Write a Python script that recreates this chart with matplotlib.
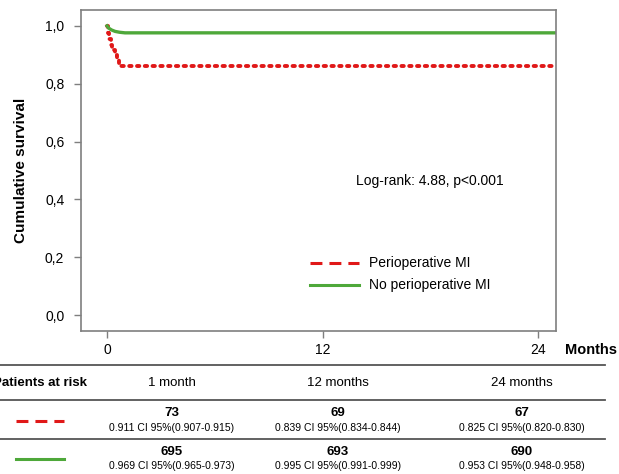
import matplotlib
matplotlib.use('Agg')
import matplotlib.pyplot as plt
from matplotlib.lines import Line2D

plt.rcParams['font.family'] = ['Liberation Sans', 'DejaVu Sans']

# survival curves (months, cumulative survival)
peri_t = [0, 0.05, 0.12, 0.2, 0.3, 0.42, 0.55, 0.68, 25]
peri_s = [1.0, 0.975, 0.955, 0.935, 0.915, 0.90, 0.885, 0.862, 0.862]
no_t = [0, 0.1, 0.25, 0.45, 0.7, 1.0, 25]
no_s = [1.0, 0.992, 0.986, 0.981, 0.978, 0.976, 0.976]

xticks = [0, 12, 24]
yticks = [0.0, 0.2, 0.4, 0.6, 0.8, 1.0]
ytick_labels = ['0,0', '0,2', '0,4', '0,6', '0,8', '1,0']

# patients at risk table
risk_cols = ['1 month', '12 months', '24 months']
peri_n = [73, 69, 67]
peri_ci = ['0.911 CI 95%(0.907-0.915)', '0.839 CI 95%(0.834-0.844)', '0.825 CI 95%(0.820-0.830)']
no_n = [695, 693, 690]
no_ci = ['0.969 CI 95%(0.965-0.973)', '0.995 CI 95%(0.991-0.999)', '0.953 CI 95%(0.948-0.958)']

RED = '#e01818'
GREEN = '#4ea83a'
GRAY = '#7f7f7f'
W, H = 619, 474


def fx(px):
    return px / W


def fy(py):
    return 1 - py / H


fig = plt.figure(figsize=(W / 100, H / 100), dpi=100)
ax = fig.add_axes([fx(81), fy(331), (556 - 81) / W, (331 - 10) / H])

ax.step(peri_t, peri_s, where='post', color=RED, lw=2.8,
        linestyle=(0, (0.6, 1.4)), dash_capstyle='round')
ax.plot(no_t, no_s, color=GREEN, lw=2.4)

ax.set_xlim(-1.45, 25.0)
ax.set_ylim(-0.055, 1.055)
ax.set_xticks(xticks)
ax.set_xticklabels([str(t) for t in xticks], fontsize=10)
ax.set_yticks(yticks)
ax.set_yticklabels(ytick_labels, fontsize=10)
ax.tick_params(length=5, color=GRAY, width=1)
ax.tick_params(axis='y', pad=7)
ax.tick_params(axis='x', pad=4)
for s in ax.spines.values():
    s.set_color(GRAY)
    s.set_linewidth(1.2)
ax.set_ylabel('Cumulative survival', fontsize=11, fontweight='bold', labelpad=12)

fig.text(fx(430), fy(181), 'Log-rank: 4.88, p<0.001', fontsize=10, ha='center', va='center')

# legend
dash = (0, (3.9, 2.3))
fig.add_artist(Line2D([fx(310), fx(359)], [fy(263), fy(263)], color=RED, lw=2.2, linestyle=dash))
fig.add_artist(Line2D([fx(310), fx(359)], [fy(285), fy(285)], color=GREEN, lw=2.2))
fig.text(fx(369), fy(263), 'Perioperative MI', fontsize=10, va='center')
fig.text(fx(369), fy(285), 'No perioperative MI', fontsize=10, va='center')

fig.text(fx(591), fy(350), 'Months', fontsize=10.5, fontweight='bold', ha='center', va='center')

# table
for y in [365, 400, 439]:
    fig.add_artist(Line2D([0, fx(605)], [fy(y), fy(y)], color='#555555', lw=1.3))

col_x = [172, 338, 522]
fig.text(fx(87), fy(383), 'Patients at risk', fontsize=9.5, fontweight='bold', ha='right', va='center')
for i, c in enumerate(risk_cols):
    fig.text(fx(col_x[i]), fy(383), c, fontsize=9.5, ha='center', va='center')
    fig.text(fx(col_x[i]), fy(413), str(peri_n[i]), fontsize=9.5, fontweight='bold', ha='center', va='center')
    fig.text(fx(col_x[i]), fy(428), peri_ci[i], fontsize=7.5, ha='center', va='center')
    fig.text(fx(col_x[i]), fy(452), str(no_n[i]), fontsize=9.5, fontweight='bold', ha='center', va='center')
    fig.text(fx(col_x[i]), fy(466), no_ci[i], fontsize=7.5, ha='center', va='center')

fig.add_artist(Line2D([fx(16), fx(64)], [fy(421), fy(421)], color=RED, lw=2.2, linestyle=dash))
fig.add_artist(Line2D([fx(16), fx(64)], [fy(459), fy(459)], color=GREEN, lw=2.2))

fig.savefig('out.png', dpi=100)
